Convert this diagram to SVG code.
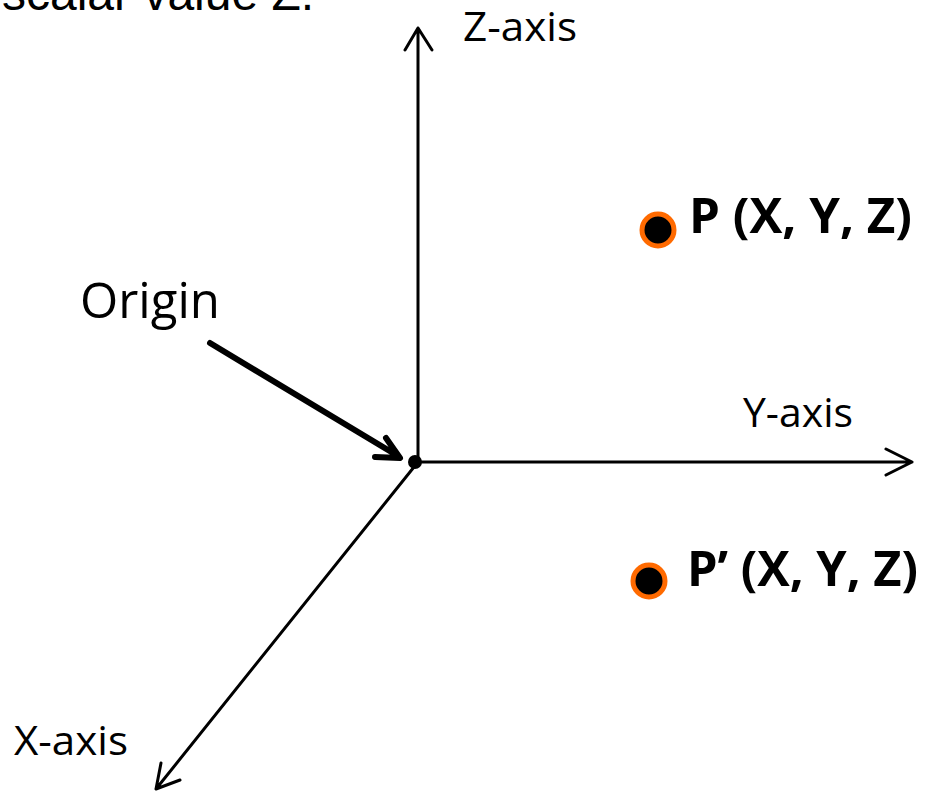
<svg xmlns="http://www.w3.org/2000/svg" width="932" height="793" viewBox="0 0 932 793">
<defs>
<style>
.lbl{font-family:"Open Sans","Liberation Sans",sans-serif;fill:#000}
.bold{font-family:"Open Sans","Liberation Sans",sans-serif;font-weight:bold;fill:#000}
.axis{stroke:#000;stroke-width:3;fill:none;stroke-linecap:round;stroke-linejoin:round}
.pt{fill:#000;stroke:#ff6a00;stroke-width:5}
</style>
</defs>
<rect width="932" height="793" fill="#fff"/>
<text x="2" y="10" font-family="Liberation Sans, Arial, sans-serif" font-size="48">scalar value Z.</text>
<g id="connectors">
<path class="axis" d="M418,462 L418,28 M405,50 L418,28 L432,50"/>
<path class="axis" d="M418,462 L912,462 M886,449 L912,462 L886,475"/>
<path class="axis" d="M418,462 L156,789 M161,763 L156,789 L180,780"/>
<path d="M210,343 L398,456 M386,438 L400,458 L375,457" fill="none" stroke="#000" stroke-width="6" stroke-linecap="round" stroke-linejoin="round"/>
</g>
<g id="origin">
<circle cx="415" cy="462" r="7" fill="#000"/>
<text class="lbl" x="80" y="318" font-size="49" textLength="140" lengthAdjust="spacingAndGlyphs">Origin</text>
</g>
<g id="z-axis"><text class="lbl" x="463" y="41" font-size="41" textLength="114" lengthAdjust="spacingAndGlyphs">Z-axis</text></g>
<g id="y-axis"><text class="lbl" x="743" y="427" font-size="40" textLength="110" lengthAdjust="spacingAndGlyphs">Y-axis</text></g>
<g id="x-axis"><text class="lbl" x="14" y="755" font-size="41" textLength="114" lengthAdjust="spacingAndGlyphs">X-axis</text></g>
<g id="p">
<circle class="pt" cx="658" cy="230" r="16"/>
<text class="bold" x="689" y="233" font-size="48" textLength="223" lengthAdjust="spacingAndGlyphs">P (X, Y, Z)</text>
</g>
<g id="p-prime">
<circle class="pt" cx="649" cy="581" r="16"/>
<text class="bold" x="687" y="586" font-size="48" textLength="231" lengthAdjust="spacingAndGlyphs">P’ (X, Y, Z)</text>
</g>
</svg>
